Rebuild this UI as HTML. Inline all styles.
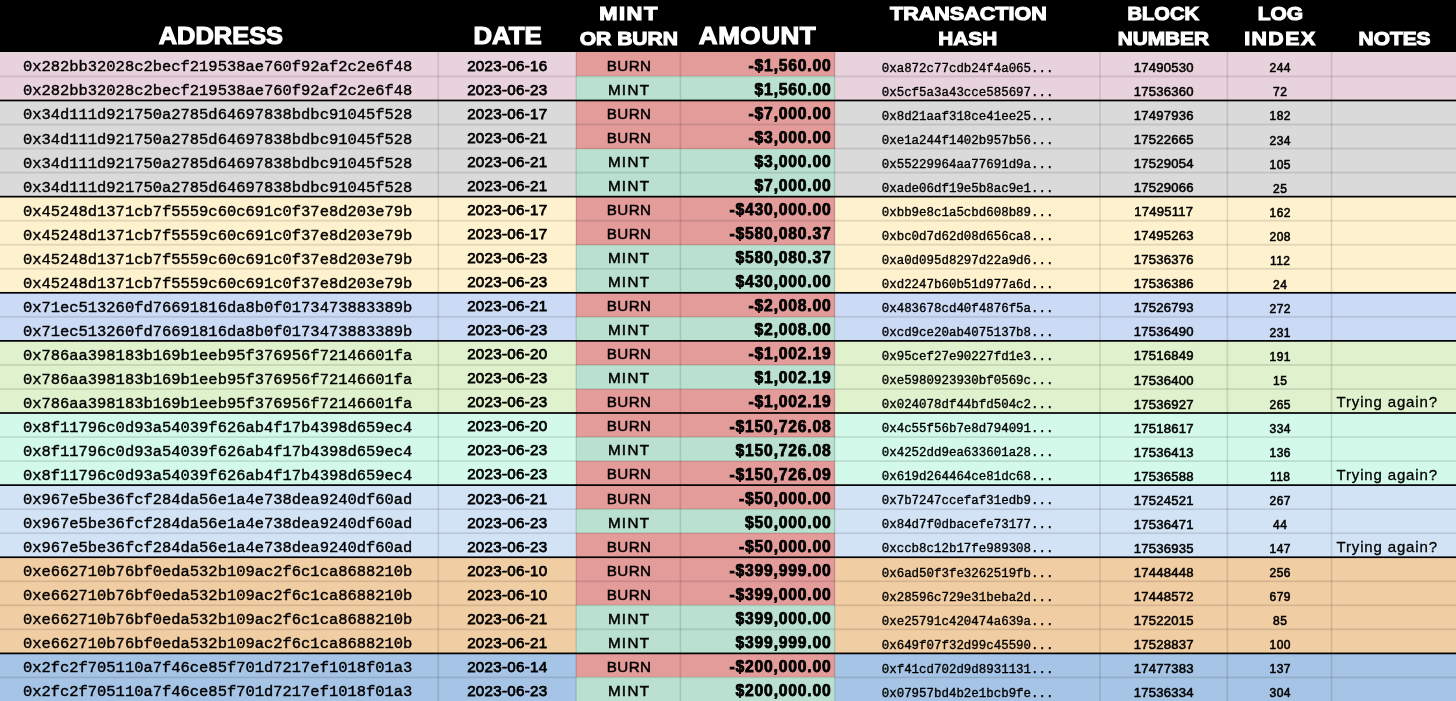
<!DOCTYPE html>
<html><head><meta charset="utf-8"><title>Mint / Burn table</title>
<style>
html,body{margin:0;padding:0;background:#000;}
body{width:1456px;height:701px;overflow:hidden;position:relative;font-family:"Liberation Sans",sans-serif;color:#000;}
#hd{position:absolute;left:0;top:0;width:1456px;height:52px;background:#000;}
.h{position:absolute;left:0;top:0;color:#fff;font-weight:bold;line-height:30px;white-space:nowrap;transform-origin:0 0;-webkit-text-stroke:1.1px #fff;}
.r{position:absolute;left:0;width:1456px;}
.c{position:absolute;top:0;height:100%;box-sizing:border-box;white-space:nowrap;overflow:hidden;}
.c span{position:relative;display:inline-block;}
.a{font-family:"Liberation Mono",monospace;font-size:15.46px;-webkit-text-stroke:0.4px #000;}
.a span{top:3px;}
.d{text-align:center;font-size:15.2px;letter-spacing:0.25px;-webkit-text-stroke:0.75px #000;}
.d span{top:1.4px;}
.t{text-align:center;font-size:15.2px;-webkit-text-stroke:0.5px #000;}
.t span{top:1.4px;left:0.8px;}
.m{text-align:right;font-weight:bold;font-size:15.7px;letter-spacing:0.8px;-webkit-text-stroke:0.75px #000;}
.m span{top:1.5px;}
.x{font-family:"Liberation Mono",monospace;font-size:12.45px;text-align:center;-webkit-text-stroke:0.35px #000;}
.x span{top:4.3px;left:0.3px;}
.b{text-align:center;font-size:13.1px;letter-spacing:0.2px;-webkit-text-stroke:0.55px #000;}
.b span{top:3.6px;left:0.1px;}
.l{text-align:center;font-size:12px;letter-spacing:0.5px;-webkit-text-stroke:0.55px #000;}
.l span{top:4px;left:0.8px;}
.n{font-size:15px;letter-spacing:0.85px;-webkit-text-stroke:0.3px #000;}
.n span{top:1.5px;}
.vl{position:absolute;top:52px;width:1px;height:649px;}
.hl{position:absolute;left:0;width:1456px;height:1px;}
</style></head><body>
<div id="hd">
<div class="h" style="font-size:23.2px;letter-spacing:0px;transform:translate(158.77px,20.5px) scaleX(1.096);">ADDRESS</div>
<div class="h" style="font-size:23.2px;letter-spacing:0px;transform:translate(473.39px,20.65px) scaleX(1.11);">DATE</div>
<div class="h" style="font-size:19.0px;letter-spacing:1.3px;transform:translate(599.23px,-0.78px) scaleX(1.154);">MINT</div>
<div class="h" style="font-size:19.0px;letter-spacing:0px;transform:translate(579.72px,24.3px) scaleX(1.108);">OR BURN</div>
<div class="h" style="font-size:23.2px;letter-spacing:0.5px;transform:translate(698.78px,20.65px) scaleX(1.122);">AMOUNT</div>
<div class="h" style="font-size:19.0px;letter-spacing:0px;transform:translate(889.98px,-0.9px) scaleX(1.134);">TRANSACTION</div>
<div class="h" style="font-size:19.0px;letter-spacing:0px;transform:translate(938.28px,24.3px) scaleX(1.093);">HASH</div>
<div class="h" style="font-size:19.0px;letter-spacing:0px;transform:translate(1127.61px,-0.9px) scaleX(1.056);">BLOCK</div>
<div class="h" style="font-size:19.0px;letter-spacing:0px;transform:translate(1117.68px,24.3px) scaleX(1.094);">NUMBER</div>
<div class="h" style="font-size:19.0px;letter-spacing:0px;transform:translate(1257.77px,-0.9px) scaleX(1.102);">LOG</div>
<div class="h" style="font-size:19.0px;letter-spacing:1.3px;transform:translate(1244.16px,24.42px) scaleX(1.121);">INDEX</div>
<div class="h" style="font-size:19.0px;letter-spacing:0px;transform:translate(1358.58px,24.3px) scaleX(1.099);">NOTES</div>
</div>
<div class="r" style="top:52.40px;height:24.54px;line-height:24.04px;background:#e8d2dc;"><div class="c a" style="left:0px;width:438.3px;padding-left:22.9px;"><span>0x282bb32028c2becf219538ae760f92af2c2e6f48</span></div><div class="c d" style="left:438.3px;width:137.90000000000003px;"><span>2023-06-16</span></div><div class="c t" style="left:576.2px;width:104.19999999999993px;background:#e39c9a;letter-spacing:0.35px;"><span>BURN</span></div><div class="c m" style="left:680.4px;width:154.20000000000005px;background:#e39c9a;padding-right:3px;"><span>-$1,560.00</span></div><div class="c x" style="left:834.6px;width:265.4px;"><span>0xa872c77cdb24f4a065...</span></div><div class="c b" style="left:1100px;width:127.40000000000009px;"><span>17490530</span></div><div class="c l" style="left:1227.4px;width:104.09999999999991px;"><span>244</span></div><div class="c n" style="left:1331.5px;width:124.5px;padding-left:5px;"><span></span></div></div>
<div class="r" style="top:76.44px;height:24.54px;line-height:24.04px;background:#e8d2dc;"><div class="c a" style="left:0px;width:438.3px;padding-left:22.9px;"><span>0x282bb32028c2becf219538ae760f92af2c2e6f48</span></div><div class="c d" style="left:438.3px;width:137.90000000000003px;"><span>2023-06-23</span></div><div class="c t" style="left:576.2px;width:104.19999999999993px;background:#bae1cf;letter-spacing:1.3px;"><span>MINT</span></div><div class="c m" style="left:680.4px;width:154.20000000000005px;background:#bae1cf;padding-right:3px;"><span>$1,560.00</span></div><div class="c x" style="left:834.6px;width:265.4px;"><span>0x5cf5a3a43cce585697...</span></div><div class="c b" style="left:1100px;width:127.40000000000009px;"><span>17536360</span></div><div class="c l" style="left:1227.4px;width:104.09999999999991px;"><span>72</span></div><div class="c n" style="left:1331.5px;width:124.5px;padding-left:5px;"><span></span></div></div>
<div class="r" style="top:100.48px;height:24.54px;line-height:24.04px;background:#dadada;"><div class="c a" style="left:0px;width:438.3px;padding-left:22.9px;"><span>0x34d111d921750a2785d64697838bdbc91045f528</span></div><div class="c d" style="left:438.3px;width:137.90000000000003px;"><span>2023-06-17</span></div><div class="c t" style="left:576.2px;width:104.19999999999993px;background:#e39c9a;letter-spacing:0.35px;"><span>BURN</span></div><div class="c m" style="left:680.4px;width:154.20000000000005px;background:#e39c9a;padding-right:3px;"><span>-$7,000.00</span></div><div class="c x" style="left:834.6px;width:265.4px;"><span>0x8d21aaf318ce41ee25...</span></div><div class="c b" style="left:1100px;width:127.40000000000009px;"><span>17497936</span></div><div class="c l" style="left:1227.4px;width:104.09999999999991px;"><span>182</span></div><div class="c n" style="left:1331.5px;width:124.5px;padding-left:5px;"><span></span></div></div>
<div class="r" style="top:124.52px;height:24.54px;line-height:24.04px;background:#dadada;"><div class="c a" style="left:0px;width:438.3px;padding-left:22.9px;"><span>0x34d111d921750a2785d64697838bdbc91045f528</span></div><div class="c d" style="left:438.3px;width:137.90000000000003px;"><span>2023-06-21</span></div><div class="c t" style="left:576.2px;width:104.19999999999993px;background:#e39c9a;letter-spacing:0.35px;"><span>BURN</span></div><div class="c m" style="left:680.4px;width:154.20000000000005px;background:#e39c9a;padding-right:3px;"><span>-$3,000.00</span></div><div class="c x" style="left:834.6px;width:265.4px;"><span>0xe1a244f1402b957b56...</span></div><div class="c b" style="left:1100px;width:127.40000000000009px;"><span>17522665</span></div><div class="c l" style="left:1227.4px;width:104.09999999999991px;"><span>234</span></div><div class="c n" style="left:1331.5px;width:124.5px;padding-left:5px;"><span></span></div></div>
<div class="r" style="top:148.56px;height:24.54px;line-height:24.04px;background:#dadada;"><div class="c a" style="left:0px;width:438.3px;padding-left:22.9px;"><span>0x34d111d921750a2785d64697838bdbc91045f528</span></div><div class="c d" style="left:438.3px;width:137.90000000000003px;"><span>2023-06-21</span></div><div class="c t" style="left:576.2px;width:104.19999999999993px;background:#bae1cf;letter-spacing:1.3px;"><span>MINT</span></div><div class="c m" style="left:680.4px;width:154.20000000000005px;background:#bae1cf;padding-right:3px;"><span>$3,000.00</span></div><div class="c x" style="left:834.6px;width:265.4px;"><span>0x55229964aa77691d9a...</span></div><div class="c b" style="left:1100px;width:127.40000000000009px;"><span>17529054</span></div><div class="c l" style="left:1227.4px;width:104.09999999999991px;"><span>105</span></div><div class="c n" style="left:1331.5px;width:124.5px;padding-left:5px;"><span></span></div></div>
<div class="r" style="top:172.60px;height:24.54px;line-height:24.04px;background:#dadada;"><div class="c a" style="left:0px;width:438.3px;padding-left:22.9px;"><span>0x34d111d921750a2785d64697838bdbc91045f528</span></div><div class="c d" style="left:438.3px;width:137.90000000000003px;"><span>2023-06-21</span></div><div class="c t" style="left:576.2px;width:104.19999999999993px;background:#bae1cf;letter-spacing:1.3px;"><span>MINT</span></div><div class="c m" style="left:680.4px;width:154.20000000000005px;background:#bae1cf;padding-right:3px;"><span>$7,000.00</span></div><div class="c x" style="left:834.6px;width:265.4px;"><span>0xade06df19e5b8ac9e1...</span></div><div class="c b" style="left:1100px;width:127.40000000000009px;"><span>17529066</span></div><div class="c l" style="left:1227.4px;width:104.09999999999991px;"><span>25</span></div><div class="c n" style="left:1331.5px;width:124.5px;padding-left:5px;"><span></span></div></div>
<div class="r" style="top:196.64px;height:24.54px;line-height:24.04px;background:#fdf1ce;"><div class="c a" style="left:0px;width:438.3px;padding-left:22.9px;"><span>0x45248d1371cb7f5559c60c691c0f37e8d203e79b</span></div><div class="c d" style="left:438.3px;width:137.90000000000003px;"><span>2023-06-17</span></div><div class="c t" style="left:576.2px;width:104.19999999999993px;background:#e39c9a;letter-spacing:0.35px;"><span>BURN</span></div><div class="c m" style="left:680.4px;width:154.20000000000005px;background:#e39c9a;padding-right:3px;"><span>-$430,000.00</span></div><div class="c x" style="left:834.6px;width:265.4px;"><span>0xbb9e8c1a5cbd608b89...</span></div><div class="c b" style="left:1100px;width:127.40000000000009px;"><span>17495117</span></div><div class="c l" style="left:1227.4px;width:104.09999999999991px;"><span>162</span></div><div class="c n" style="left:1331.5px;width:124.5px;padding-left:5px;"><span></span></div></div>
<div class="r" style="top:220.68px;height:24.54px;line-height:24.04px;background:#fdf1ce;"><div class="c a" style="left:0px;width:438.3px;padding-left:22.9px;"><span>0x45248d1371cb7f5559c60c691c0f37e8d203e79b</span></div><div class="c d" style="left:438.3px;width:137.90000000000003px;"><span>2023-06-17</span></div><div class="c t" style="left:576.2px;width:104.19999999999993px;background:#e39c9a;letter-spacing:0.35px;"><span>BURN</span></div><div class="c m" style="left:680.4px;width:154.20000000000005px;background:#e39c9a;padding-right:3px;"><span>-$580,080.37</span></div><div class="c x" style="left:834.6px;width:265.4px;"><span>0xbc0d7d62d08d656ca8...</span></div><div class="c b" style="left:1100px;width:127.40000000000009px;"><span>17495263</span></div><div class="c l" style="left:1227.4px;width:104.09999999999991px;"><span>208</span></div><div class="c n" style="left:1331.5px;width:124.5px;padding-left:5px;"><span></span></div></div>
<div class="r" style="top:244.72px;height:24.54px;line-height:24.04px;background:#fdf1ce;"><div class="c a" style="left:0px;width:438.3px;padding-left:22.9px;"><span>0x45248d1371cb7f5559c60c691c0f37e8d203e79b</span></div><div class="c d" style="left:438.3px;width:137.90000000000003px;"><span>2023-06-23</span></div><div class="c t" style="left:576.2px;width:104.19999999999993px;background:#bae1cf;letter-spacing:1.3px;"><span>MINT</span></div><div class="c m" style="left:680.4px;width:154.20000000000005px;background:#bae1cf;padding-right:3px;"><span>$580,080.37</span></div><div class="c x" style="left:834.6px;width:265.4px;"><span>0xa0d095d8297d22a9d6...</span></div><div class="c b" style="left:1100px;width:127.40000000000009px;"><span>17536376</span></div><div class="c l" style="left:1227.4px;width:104.09999999999991px;"><span>112</span></div><div class="c n" style="left:1331.5px;width:124.5px;padding-left:5px;"><span></span></div></div>
<div class="r" style="top:268.76px;height:24.54px;line-height:24.04px;background:#fdf1ce;"><div class="c a" style="left:0px;width:438.3px;padding-left:22.9px;"><span>0x45248d1371cb7f5559c60c691c0f37e8d203e79b</span></div><div class="c d" style="left:438.3px;width:137.90000000000003px;"><span>2023-06-23</span></div><div class="c t" style="left:576.2px;width:104.19999999999993px;background:#bae1cf;letter-spacing:1.3px;"><span>MINT</span></div><div class="c m" style="left:680.4px;width:154.20000000000005px;background:#bae1cf;padding-right:3px;"><span>$430,000.00</span></div><div class="c x" style="left:834.6px;width:265.4px;"><span>0xd2247b60b51d977a6d...</span></div><div class="c b" style="left:1100px;width:127.40000000000009px;"><span>17536386</span></div><div class="c l" style="left:1227.4px;width:104.09999999999991px;"><span>24</span></div><div class="c n" style="left:1331.5px;width:124.5px;padding-left:5px;"><span></span></div></div>
<div class="r" style="top:292.80px;height:24.54px;line-height:24.04px;background:#cbdaf5;"><div class="c a" style="left:0px;width:438.3px;padding-left:22.9px;"><span>0x71ec513260fd76691816da8b0f0173473883389b</span></div><div class="c d" style="left:438.3px;width:137.90000000000003px;"><span>2023-06-21</span></div><div class="c t" style="left:576.2px;width:104.19999999999993px;background:#e39c9a;letter-spacing:0.35px;"><span>BURN</span></div><div class="c m" style="left:680.4px;width:154.20000000000005px;background:#e39c9a;padding-right:3px;"><span>-$2,008.00</span></div><div class="c x" style="left:834.6px;width:265.4px;"><span>0x483678cd40f4876f5a...</span></div><div class="c b" style="left:1100px;width:127.40000000000009px;"><span>17526793</span></div><div class="c l" style="left:1227.4px;width:104.09999999999991px;"><span>272</span></div><div class="c n" style="left:1331.5px;width:124.5px;padding-left:5px;"><span></span></div></div>
<div class="r" style="top:316.84px;height:24.54px;line-height:24.04px;background:#cbdaf5;"><div class="c a" style="left:0px;width:438.3px;padding-left:22.9px;"><span>0x71ec513260fd76691816da8b0f0173473883389b</span></div><div class="c d" style="left:438.3px;width:137.90000000000003px;"><span>2023-06-23</span></div><div class="c t" style="left:576.2px;width:104.19999999999993px;background:#bae1cf;letter-spacing:1.3px;"><span>MINT</span></div><div class="c m" style="left:680.4px;width:154.20000000000005px;background:#bae1cf;padding-right:3px;"><span>$2,008.00</span></div><div class="c x" style="left:834.6px;width:265.4px;"><span>0xcd9ce20ab4075137b8...</span></div><div class="c b" style="left:1100px;width:127.40000000000009px;"><span>17536490</span></div><div class="c l" style="left:1227.4px;width:104.09999999999991px;"><span>231</span></div><div class="c n" style="left:1331.5px;width:124.5px;padding-left:5px;"><span></span></div></div>
<div class="r" style="top:340.88px;height:24.54px;line-height:24.04px;background:#dff1cd;"><div class="c a" style="left:0px;width:438.3px;padding-left:22.9px;"><span>0x786aa398183b169b1eeb95f376956f72146601fa</span></div><div class="c d" style="left:438.3px;width:137.90000000000003px;"><span>2023-06-20</span></div><div class="c t" style="left:576.2px;width:104.19999999999993px;background:#e39c9a;letter-spacing:0.35px;"><span>BURN</span></div><div class="c m" style="left:680.4px;width:154.20000000000005px;background:#e39c9a;padding-right:3px;"><span>-$1,002.19</span></div><div class="c x" style="left:834.6px;width:265.4px;"><span>0x95cef27e90227fd1e3...</span></div><div class="c b" style="left:1100px;width:127.40000000000009px;"><span>17516849</span></div><div class="c l" style="left:1227.4px;width:104.09999999999991px;"><span>191</span></div><div class="c n" style="left:1331.5px;width:124.5px;padding-left:5px;"><span></span></div></div>
<div class="r" style="top:364.92px;height:24.54px;line-height:24.04px;background:#dff1cd;"><div class="c a" style="left:0px;width:438.3px;padding-left:22.9px;"><span>0x786aa398183b169b1eeb95f376956f72146601fa</span></div><div class="c d" style="left:438.3px;width:137.90000000000003px;"><span>2023-06-23</span></div><div class="c t" style="left:576.2px;width:104.19999999999993px;background:#bae1cf;letter-spacing:1.3px;"><span>MINT</span></div><div class="c m" style="left:680.4px;width:154.20000000000005px;background:#bae1cf;padding-right:3px;"><span>$1,002.19</span></div><div class="c x" style="left:834.6px;width:265.4px;"><span>0xe5980923930bf0569c...</span></div><div class="c b" style="left:1100px;width:127.40000000000009px;"><span>17536400</span></div><div class="c l" style="left:1227.4px;width:104.09999999999991px;"><span>15</span></div><div class="c n" style="left:1331.5px;width:124.5px;padding-left:5px;"><span></span></div></div>
<div class="r" style="top:388.96px;height:24.54px;line-height:24.04px;background:#dff1cd;"><div class="c a" style="left:0px;width:438.3px;padding-left:22.9px;"><span>0x786aa398183b169b1eeb95f376956f72146601fa</span></div><div class="c d" style="left:438.3px;width:137.90000000000003px;"><span>2023-06-23</span></div><div class="c t" style="left:576.2px;width:104.19999999999993px;background:#e39c9a;letter-spacing:0.35px;"><span>BURN</span></div><div class="c m" style="left:680.4px;width:154.20000000000005px;background:#e39c9a;padding-right:3px;"><span>-$1,002.19</span></div><div class="c x" style="left:834.6px;width:265.4px;"><span>0x024078df44bfd504c2...</span></div><div class="c b" style="left:1100px;width:127.40000000000009px;"><span>17536927</span></div><div class="c l" style="left:1227.4px;width:104.09999999999991px;"><span>265</span></div><div class="c n" style="left:1331.5px;width:124.5px;padding-left:5px;"><span>Trying again?</span></div></div>
<div class="r" style="top:413.00px;height:24.54px;line-height:24.04px;background:#d2f9ea;"><div class="c a" style="left:0px;width:438.3px;padding-left:22.9px;"><span>0x8f11796c0d93a54039f626ab4f17b4398d659ec4</span></div><div class="c d" style="left:438.3px;width:137.90000000000003px;"><span>2023-06-20</span></div><div class="c t" style="left:576.2px;width:104.19999999999993px;background:#e39c9a;letter-spacing:0.35px;"><span>BURN</span></div><div class="c m" style="left:680.4px;width:154.20000000000005px;background:#e39c9a;padding-right:3px;"><span>-$150,726.08</span></div><div class="c x" style="left:834.6px;width:265.4px;"><span>0x4c55f56b7e8d794091...</span></div><div class="c b" style="left:1100px;width:127.40000000000009px;"><span>17518617</span></div><div class="c l" style="left:1227.4px;width:104.09999999999991px;"><span>334</span></div><div class="c n" style="left:1331.5px;width:124.5px;padding-left:5px;"><span></span></div></div>
<div class="r" style="top:437.04px;height:24.54px;line-height:24.04px;background:#d2f9ea;"><div class="c a" style="left:0px;width:438.3px;padding-left:22.9px;"><span>0x8f11796c0d93a54039f626ab4f17b4398d659ec4</span></div><div class="c d" style="left:438.3px;width:137.90000000000003px;"><span>2023-06-23</span></div><div class="c t" style="left:576.2px;width:104.19999999999993px;background:#bae1cf;letter-spacing:1.3px;"><span>MINT</span></div><div class="c m" style="left:680.4px;width:154.20000000000005px;background:#bae1cf;padding-right:3px;"><span>$150,726.08</span></div><div class="c x" style="left:834.6px;width:265.4px;"><span>0x4252dd9ea633601a28...</span></div><div class="c b" style="left:1100px;width:127.40000000000009px;"><span>17536413</span></div><div class="c l" style="left:1227.4px;width:104.09999999999991px;"><span>136</span></div><div class="c n" style="left:1331.5px;width:124.5px;padding-left:5px;"><span></span></div></div>
<div class="r" style="top:461.08px;height:24.54px;line-height:24.04px;background:#d2f9ea;"><div class="c a" style="left:0px;width:438.3px;padding-left:22.9px;"><span>0x8f11796c0d93a54039f626ab4f17b4398d659ec4</span></div><div class="c d" style="left:438.3px;width:137.90000000000003px;"><span>2023-06-23</span></div><div class="c t" style="left:576.2px;width:104.19999999999993px;background:#e39c9a;letter-spacing:0.35px;"><span>BURN</span></div><div class="c m" style="left:680.4px;width:154.20000000000005px;background:#e39c9a;padding-right:3px;"><span>-$150,726.09</span></div><div class="c x" style="left:834.6px;width:265.4px;"><span>0x619d264464ce81dc68...</span></div><div class="c b" style="left:1100px;width:127.40000000000009px;"><span>17536588</span></div><div class="c l" style="left:1227.4px;width:104.09999999999991px;"><span>118</span></div><div class="c n" style="left:1331.5px;width:124.5px;padding-left:5px;"><span>Trying again?</span></div></div>
<div class="r" style="top:485.12px;height:24.54px;line-height:24.04px;background:#d2e3f5;"><div class="c a" style="left:0px;width:438.3px;padding-left:22.9px;"><span>0x967e5be36fcf284da56e1a4e738dea9240df60ad</span></div><div class="c d" style="left:438.3px;width:137.90000000000003px;"><span>2023-06-21</span></div><div class="c t" style="left:576.2px;width:104.19999999999993px;background:#e39c9a;letter-spacing:0.35px;"><span>BURN</span></div><div class="c m" style="left:680.4px;width:154.20000000000005px;background:#e39c9a;padding-right:3px;"><span>-$50,000.00</span></div><div class="c x" style="left:834.6px;width:265.4px;"><span>0x7b7247ccefaf31edb9...</span></div><div class="c b" style="left:1100px;width:127.40000000000009px;"><span>17524521</span></div><div class="c l" style="left:1227.4px;width:104.09999999999991px;"><span>267</span></div><div class="c n" style="left:1331.5px;width:124.5px;padding-left:5px;"><span></span></div></div>
<div class="r" style="top:509.16px;height:24.54px;line-height:24.04px;background:#d2e3f5;"><div class="c a" style="left:0px;width:438.3px;padding-left:22.9px;"><span>0x967e5be36fcf284da56e1a4e738dea9240df60ad</span></div><div class="c d" style="left:438.3px;width:137.90000000000003px;"><span>2023-06-23</span></div><div class="c t" style="left:576.2px;width:104.19999999999993px;background:#bae1cf;letter-spacing:1.3px;"><span>MINT</span></div><div class="c m" style="left:680.4px;width:154.20000000000005px;background:#bae1cf;padding-right:3px;"><span>$50,000.00</span></div><div class="c x" style="left:834.6px;width:265.4px;"><span>0x84d7f0dbacefe73177...</span></div><div class="c b" style="left:1100px;width:127.40000000000009px;"><span>17536471</span></div><div class="c l" style="left:1227.4px;width:104.09999999999991px;"><span>44</span></div><div class="c n" style="left:1331.5px;width:124.5px;padding-left:5px;"><span></span></div></div>
<div class="r" style="top:533.20px;height:24.54px;line-height:24.04px;background:#d2e3f5;"><div class="c a" style="left:0px;width:438.3px;padding-left:22.9px;"><span>0x967e5be36fcf284da56e1a4e738dea9240df60ad</span></div><div class="c d" style="left:438.3px;width:137.90000000000003px;"><span>2023-06-23</span></div><div class="c t" style="left:576.2px;width:104.19999999999993px;background:#e39c9a;letter-spacing:0.35px;"><span>BURN</span></div><div class="c m" style="left:680.4px;width:154.20000000000005px;background:#e39c9a;padding-right:3px;"><span>-$50,000.00</span></div><div class="c x" style="left:834.6px;width:265.4px;"><span>0xccb8c12b17fe989308...</span></div><div class="c b" style="left:1100px;width:127.40000000000009px;"><span>17536935</span></div><div class="c l" style="left:1227.4px;width:104.09999999999991px;"><span>147</span></div><div class="c n" style="left:1331.5px;width:124.5px;padding-left:5px;"><span>Trying again?</span></div></div>
<div class="r" style="top:557.24px;height:24.54px;line-height:24.04px;background:#f1cda3;"><div class="c a" style="left:0px;width:438.3px;padding-left:22.9px;"><span>0xe662710b76bf0eda532b109ac2f6c1ca8688210b</span></div><div class="c d" style="left:438.3px;width:137.90000000000003px;"><span>2023-06-10</span></div><div class="c t" style="left:576.2px;width:104.19999999999993px;background:#e39c9a;letter-spacing:0.35px;"><span>BURN</span></div><div class="c m" style="left:680.4px;width:154.20000000000005px;background:#e39c9a;padding-right:3px;"><span>-$399,999.00</span></div><div class="c x" style="left:834.6px;width:265.4px;"><span>0x6ad50f3fe3262519fb...</span></div><div class="c b" style="left:1100px;width:127.40000000000009px;"><span>17448448</span></div><div class="c l" style="left:1227.4px;width:104.09999999999991px;"><span>256</span></div><div class="c n" style="left:1331.5px;width:124.5px;padding-left:5px;"><span></span></div></div>
<div class="r" style="top:581.28px;height:24.54px;line-height:24.04px;background:#f1cda3;"><div class="c a" style="left:0px;width:438.3px;padding-left:22.9px;"><span>0xe662710b76bf0eda532b109ac2f6c1ca8688210b</span></div><div class="c d" style="left:438.3px;width:137.90000000000003px;"><span>2023-06-10</span></div><div class="c t" style="left:576.2px;width:104.19999999999993px;background:#e39c9a;letter-spacing:0.35px;"><span>BURN</span></div><div class="c m" style="left:680.4px;width:154.20000000000005px;background:#e39c9a;padding-right:3px;"><span>-$399,000.00</span></div><div class="c x" style="left:834.6px;width:265.4px;"><span>0x28596c729e31beba2d...</span></div><div class="c b" style="left:1100px;width:127.40000000000009px;"><span>17448572</span></div><div class="c l" style="left:1227.4px;width:104.09999999999991px;"><span>679</span></div><div class="c n" style="left:1331.5px;width:124.5px;padding-left:5px;"><span></span></div></div>
<div class="r" style="top:605.32px;height:24.54px;line-height:24.04px;background:#f1cda3;"><div class="c a" style="left:0px;width:438.3px;padding-left:22.9px;"><span>0xe662710b76bf0eda532b109ac2f6c1ca8688210b</span></div><div class="c d" style="left:438.3px;width:137.90000000000003px;"><span>2023-06-21</span></div><div class="c t" style="left:576.2px;width:104.19999999999993px;background:#bae1cf;letter-spacing:1.3px;"><span>MINT</span></div><div class="c m" style="left:680.4px;width:154.20000000000005px;background:#bae1cf;padding-right:3px;"><span>$399,000.00</span></div><div class="c x" style="left:834.6px;width:265.4px;"><span>0xe25791c420474a639a...</span></div><div class="c b" style="left:1100px;width:127.40000000000009px;"><span>17522015</span></div><div class="c l" style="left:1227.4px;width:104.09999999999991px;"><span>85</span></div><div class="c n" style="left:1331.5px;width:124.5px;padding-left:5px;"><span></span></div></div>
<div class="r" style="top:629.36px;height:24.54px;line-height:24.04px;background:#f1cda3;"><div class="c a" style="left:0px;width:438.3px;padding-left:22.9px;"><span>0xe662710b76bf0eda532b109ac2f6c1ca8688210b</span></div><div class="c d" style="left:438.3px;width:137.90000000000003px;"><span>2023-06-21</span></div><div class="c t" style="left:576.2px;width:104.19999999999993px;background:#bae1cf;letter-spacing:1.3px;"><span>MINT</span></div><div class="c m" style="left:680.4px;width:154.20000000000005px;background:#bae1cf;padding-right:3px;"><span>$399,999.00</span></div><div class="c x" style="left:834.6px;width:265.4px;"><span>0x649f07f32d99c45590...</span></div><div class="c b" style="left:1100px;width:127.40000000000009px;"><span>17528837</span></div><div class="c l" style="left:1227.4px;width:104.09999999999991px;"><span>100</span></div><div class="c n" style="left:1331.5px;width:124.5px;padding-left:5px;"><span></span></div></div>
<div class="r" style="top:653.40px;height:24.54px;line-height:24.04px;background:#a6c4e5;"><div class="c a" style="left:0px;width:438.3px;padding-left:22.9px;"><span>0x2fc2f705110a7f46ce85f701d7217ef1018f01a3</span></div><div class="c d" style="left:438.3px;width:137.90000000000003px;"><span>2023-06-14</span></div><div class="c t" style="left:576.2px;width:104.19999999999993px;background:#e39c9a;letter-spacing:0.35px;"><span>BURN</span></div><div class="c m" style="left:680.4px;width:154.20000000000005px;background:#e39c9a;padding-right:3px;"><span>-$200,000.00</span></div><div class="c x" style="left:834.6px;width:265.4px;"><span>0xf41cd702d9d8931131...</span></div><div class="c b" style="left:1100px;width:127.40000000000009px;"><span>17477383</span></div><div class="c l" style="left:1227.4px;width:104.09999999999991px;"><span>137</span></div><div class="c n" style="left:1331.5px;width:124.5px;padding-left:5px;"><span></span></div></div>
<div class="r" style="top:677.44px;height:24.54px;line-height:24.04px;background:#a6c4e5;"><div class="c a" style="left:0px;width:438.3px;padding-left:22.9px;"><span>0x2fc2f705110a7f46ce85f701d7217ef1018f01a3</span></div><div class="c d" style="left:438.3px;width:137.90000000000003px;"><span>2023-06-23</span></div><div class="c t" style="left:576.2px;width:104.19999999999993px;background:#bae1cf;letter-spacing:1.3px;"><span>MINT</span></div><div class="c m" style="left:680.4px;width:154.20000000000005px;background:#bae1cf;padding-right:3px;"><span>$200,000.00</span></div><div class="c x" style="left:834.6px;width:265.4px;"><span>0x07957bd4b2e1bcb9fe...</span></div><div class="c b" style="left:1100px;width:127.40000000000009px;"><span>17536334</span></div><div class="c l" style="left:1227.4px;width:104.09999999999991px;"><span>304</span></div><div class="c n" style="left:1331.5px;width:124.5px;padding-left:5px;"><span></span></div></div>
<div class="hl" style="top:75px;background:rgba(0,0,0,0.051);"></div><div class="hl" style="top:76px;background:rgba(0,0,0,0.110);"></div><div class="hl" style="top:77px;background:rgba(0,0,0,0.037);"></div><div class="hl" style="top:99px;background:rgba(0,0,0,0.370);"></div><div class="hl" style="top:100px;background:rgba(0,0,0,1.000);"></div><div class="hl" style="top:101px;background:rgba(0,0,0,0.330);"></div><div class="hl" style="top:123px;background:rgba(0,0,0,0.042);"></div><div class="hl" style="top:124px;background:rgba(0,0,0,0.110);"></div><div class="hl" style="top:125px;background:rgba(0,0,0,0.046);"></div><div class="hl" style="top:147px;background:rgba(0,0,0,0.037);"></div><div class="hl" style="top:148px;background:rgba(0,0,0,0.110);"></div><div class="hl" style="top:149px;background:rgba(0,0,0,0.051);"></div><div class="hl" style="top:171px;background:rgba(0,0,0,0.033);"></div><div class="hl" style="top:172px;background:rgba(0,0,0,0.110);"></div><div class="hl" style="top:173px;background:rgba(0,0,0,0.055);"></div><div class="hl" style="top:195px;background:rgba(0,0,0,0.210);"></div><div class="hl" style="top:196px;background:rgba(0,0,0,1.000);"></div><div class="hl" style="top:197px;background:rgba(0,0,0,0.490);"></div><div class="hl" style="top:219px;background:rgba(0,0,0,0.024);"></div><div class="hl" style="top:220px;background:rgba(0,0,0,0.110);"></div><div class="hl" style="top:221px;background:rgba(0,0,0,0.064);"></div><div class="hl" style="top:243px;background:rgba(0,0,0,0.020);"></div><div class="hl" style="top:244px;background:rgba(0,0,0,0.110);"></div><div class="hl" style="top:245px;background:rgba(0,0,0,0.068);"></div><div class="hl" style="top:267px;background:rgba(0,0,0,0.015);"></div><div class="hl" style="top:268px;background:rgba(0,0,0,0.110);"></div><div class="hl" style="top:269px;background:rgba(0,0,0,0.073);"></div><div class="hl" style="top:291px;background:rgba(0,0,0,0.050);"></div><div class="hl" style="top:292px;background:rgba(0,0,0,1.000);"></div><div class="hl" style="top:293px;background:rgba(0,0,0,0.650);"></div><div class="hl" style="top:315px;background:rgba(0,0,0,0.007);"></div><div class="hl" style="top:316px;background:rgba(0,0,0,0.110);"></div><div class="hl" style="top:317px;background:rgba(0,0,0,0.081);"></div><div class="hl" style="top:340px;background:rgba(0,0,0,0.970);"></div><div class="hl" style="top:341px;background:rgba(0,0,0,0.730);"></div><div class="hl" style="top:364px;background:rgba(0,0,0,0.108);"></div><div class="hl" style="top:365px;background:rgba(0,0,0,0.090);"></div><div class="hl" style="top:388px;background:rgba(0,0,0,0.103);"></div><div class="hl" style="top:389px;background:rgba(0,0,0,0.095);"></div><div class="hl" style="top:412px;background:rgba(0,0,0,0.850);"></div><div class="hl" style="top:413px;background:rgba(0,0,0,0.850);"></div><div class="hl" style="top:436px;background:rgba(0,0,0,0.095);"></div><div class="hl" style="top:437px;background:rgba(0,0,0,0.103);"></div><div class="hl" style="top:460px;background:rgba(0,0,0,0.090);"></div><div class="hl" style="top:461px;background:rgba(0,0,0,0.108);"></div><div class="hl" style="top:484px;background:rgba(0,0,0,0.730);"></div><div class="hl" style="top:485px;background:rgba(0,0,0,0.970);"></div><div class="hl" style="top:508px;background:rgba(0,0,0,0.081);"></div><div class="hl" style="top:509px;background:rgba(0,0,0,0.110);"></div><div class="hl" style="top:510px;background:rgba(0,0,0,0.007);"></div><div class="hl" style="top:532px;background:rgba(0,0,0,0.077);"></div><div class="hl" style="top:533px;background:rgba(0,0,0,0.110);"></div><div class="hl" style="top:534px;background:rgba(0,0,0,0.011);"></div><div class="hl" style="top:556px;background:rgba(0,0,0,0.610);"></div><div class="hl" style="top:557px;background:rgba(0,0,0,1.000);"></div><div class="hl" style="top:558px;background:rgba(0,0,0,0.090);"></div><div class="hl" style="top:580px;background:rgba(0,0,0,0.068);"></div><div class="hl" style="top:581px;background:rgba(0,0,0,0.110);"></div><div class="hl" style="top:582px;background:rgba(0,0,0,0.020);"></div><div class="hl" style="top:604px;background:rgba(0,0,0,0.064);"></div><div class="hl" style="top:605px;background:rgba(0,0,0,0.110);"></div><div class="hl" style="top:606px;background:rgba(0,0,0,0.024);"></div><div class="hl" style="top:628px;background:rgba(0,0,0,0.059);"></div><div class="hl" style="top:629px;background:rgba(0,0,0,0.110);"></div><div class="hl" style="top:630px;background:rgba(0,0,0,0.029);"></div><div class="hl" style="top:652px;background:rgba(0,0,0,0.450);"></div><div class="hl" style="top:653px;background:rgba(0,0,0,1.000);"></div><div class="hl" style="top:654px;background:rgba(0,0,0,0.250);"></div><div class="hl" style="top:676px;background:rgba(0,0,0,0.051);"></div><div class="hl" style="top:677px;background:rgba(0,0,0,0.110);"></div><div class="hl" style="top:678px;background:rgba(0,0,0,0.037);"></div><div class="vl" style="left:437px;background:rgba(0,0,0,0.054);"></div><div class="vl" style="left:438px;background:rgba(0,0,0,0.120);"></div><div class="vl" style="left:439px;background:rgba(0,0,0,0.006);"></div><div class="vl" style="left:575px;background:rgba(0,0,0,0.066);"></div><div class="vl" style="left:576px;background:rgba(0,0,0,0.114);"></div><div class="vl" style="left:679px;background:rgba(0,0,0,0.042);"></div><div class="vl" style="left:680px;background:rgba(0,0,0,0.120);"></div><div class="vl" style="left:681px;background:rgba(0,0,0,0.018);"></div><div class="vl" style="left:833px;background:rgba(0,0,0,0.018);"></div><div class="vl" style="left:834px;background:rgba(0,0,0,0.120);"></div><div class="vl" style="left:835px;background:rgba(0,0,0,0.042);"></div><div class="vl" style="left:1099px;background:rgba(0,0,0,0.090);"></div><div class="vl" style="left:1100px;background:rgba(0,0,0,0.090);"></div><div class="vl" style="left:1226px;background:rgba(0,0,0,0.042);"></div><div class="vl" style="left:1227px;background:rgba(0,0,0,0.120);"></div><div class="vl" style="left:1228px;background:rgba(0,0,0,0.018);"></div><div class="vl" style="left:1330px;background:rgba(0,0,0,0.030);"></div><div class="vl" style="left:1331px;background:rgba(0,0,0,0.120);"></div><div class="vl" style="left:1332px;background:rgba(0,0,0,0.030);"></div></body></html>
